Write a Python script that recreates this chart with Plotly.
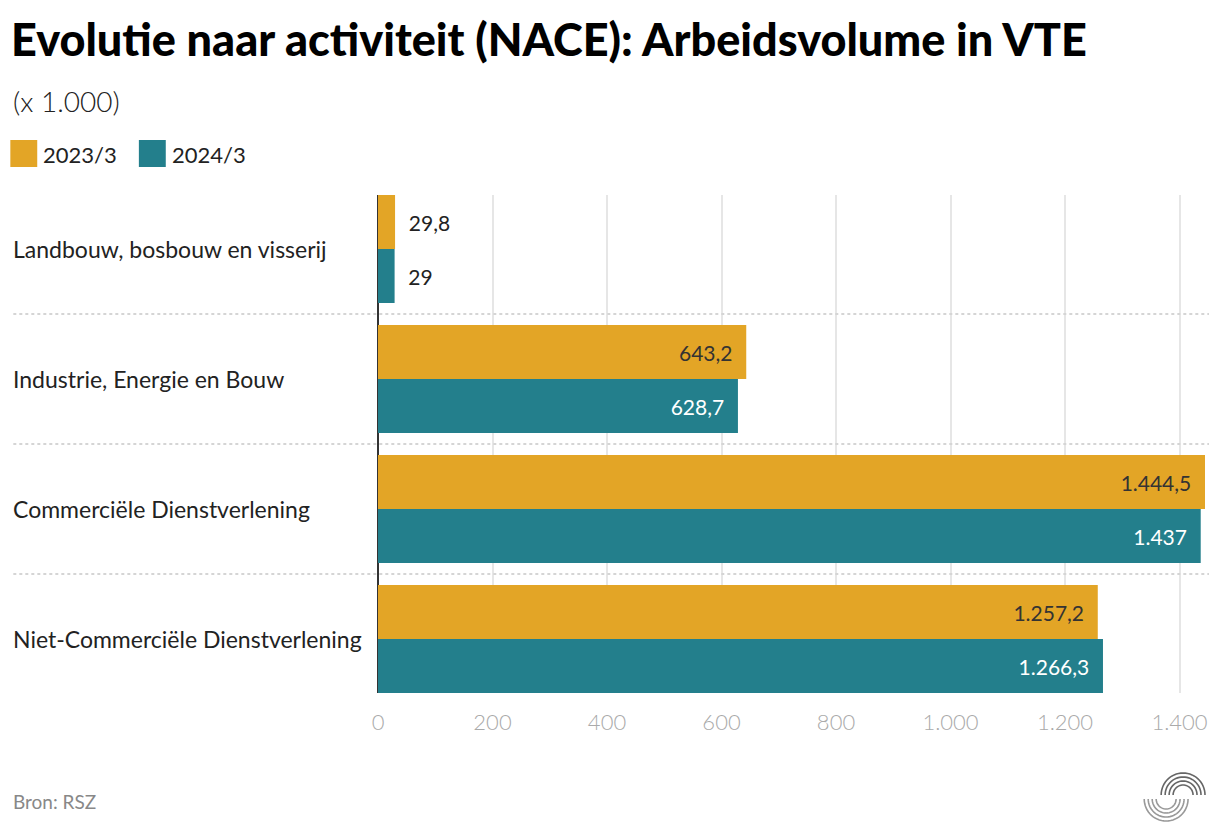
import math
import plotly.graph_objects as go

categories = ["Landbouw, bosbouw en visserij", "Industrie, Energie en Bouw",
              "Commerciële Dienstverlening", "Niet-Commerciële Dienstverlening"]
series_names = ["2023/3", "2024/3"]
values_2023 = [29.8, 643.2, 1444.5, 1257.2]
values_2024 = [29.0, 628.7, 1437.0, 1266.3]
x_ticks = [0, 200, 400, 600, 800, 1000, 1200, 1400]
colors = ["#E3A526", "#237F8C"]
inside_text_colors = ["#333333", "#FFFFFF"]

OFF = 8  # page body margin
W, H = 1220 - OFF, 840 - OFF
L, R, T, B = 378, 1208, 195, 693  # in page pixels
FONT = "Lato"
NB = "\u00a0"


def fmt(v):
    s = f"{v:,.1f}"
    if s.endswith(".0"):
        s = s[:-2]
    return s.replace(",", "X").replace(".", ",").replace("X", ".")


def px(x):
    return (x - L) / (R - L)


def py(y):
    return (B - y) / (B - T)


idx = list(range(len(categories)))
fig = go.Figure()
for name, vals, col, tcol in zip(series_names, [values_2023, values_2024], colors, inside_text_colors):
    pos = ["outside" if v < 100 else "inside" for v in vals]
    txt = [(NB * 2 + fmt(v)) if p == "outside" else (fmt(v) + NB * 2) for v, p in zip(vals, pos)]
    fig.add_trace(go.Bar(
        y=idx, x=vals, name=name, orientation="h",
        marker=dict(color=col, line=dict(width=0)),
        text=txt, textposition=pos,
        insidetextanchor="end",
        insidetextfont=dict(family=FONT, size=21, color=tcol),
        outsidetextfont=dict(family=FONT, size=21, color="#222222"),
        constraintext="none", cliponaxis=False,
        hoverinfo="skip",
    ))

pad = 11 / 130
shapes = []
for i in range(len(categories) - 1):
    shapes.append(dict(type="line", xref="paper", yref="y",
                       x0=px(12), x1=px(1212), y0=i + 0.5, y1=i + 0.5,
                       line=dict(color="#d5d5d5", width=2, dash="dot")))

legend_x = [9, 138]
annotations = []
for name, col, lx in zip(series_names, colors, legend_x):
    shapes.append(dict(type="rect", xref="paper", yref="paper",
                       x0=px(lx), x1=px(lx + 27), y0=py(140), y1=py(167),
                       fillcolor=col, line=dict(width=0)))
    annotations.append(dict(text=name, xref="paper", yref="paper", x=px(lx + 31), y=py(154),
                            xanchor="left", yanchor="middle", showarrow=False,
                            font=dict(family=FONT, size=22, color="#222222")))

for i, c in enumerate(categories):
    annotations.append(dict(text=c, xref="paper", yref="y", x=px(10), y=i,
                            xanchor="left", yanchor="middle", showarrow=False,
                            font=dict(family=FONT, size=23, color="#222222")))

annotations.append(dict(text="Evolutie naar activiteit (NACE): Arbeidsvolume in VTE",
                        xref="paper", yref="paper", x=px(8), y=py(39),
                        xanchor="left", yanchor="middle", showarrow=False,
                        font=dict(family=FONT, size=45, color="#000000", weight=900)))
annotations.append(dict(text="(x 1.000)", xref="paper", yref="paper", x=px(10), y=py(101),
                        xanchor="left", yanchor="middle", showarrow=False,
                        font=dict(family=FONT, size=28, color="#222222", weight=300)))
annotations.append(dict(text="Bron: RSZ", xref="paper", yref="paper", x=px(10), y=py(801),
                        xanchor="left", yanchor="middle", showarrow=False,
                        font=dict(family=FONT, size=19, color="#888888")))


def arc_path(cx, cy, r, a0, a1, n=30):
    pts = []
    for k in range(n + 1):
        a = a0 + (a1 - a0) * k / n
        x = cx + r * math.cos(a)
        y = cy - r * math.sin(a)
        pts.append(f"{px(x):.5f},{py(y):.5f}")
    return "M" + " L".join(pts)


for r in [10, 14, 18, 22]:
    shapes.append(dict(type="path", xref="paper", yref="paper",
                       path=arc_path(1186, 795, r, 0, math.pi),
                       line=dict(color="#666666", width=1.6)))
    shapes.append(dict(type="path", xref="paper", yref="paper",
                       path=arc_path(1169, 799, r, math.pi, 2 * math.pi),
                       line=dict(color="#999999", width=1.6)))

fig.update_layout(
    width=W, height=H,
    margin=dict(l=L - OFF, r=W - (R - OFF), t=T - OFF, b=H - (B - OFF), pad=0),
    paper_bgcolor="white", plot_bgcolor="white",
    barmode="group", bargap=22 / 130, bargroupgap=0,
    separators=",.",
    showlegend=False,
    font=dict(family=FONT, color="#222222"),
    shapes=shapes, annotations=annotations,
    xaxis=dict(range=[0, 1444.5], tickvals=x_ticks, tickformat=",d",
               showgrid=True, gridcolor="#e6e6e6", gridwidth=2,
               zeroline=True, zerolinecolor="#333333", zerolinewidth=2,
               showline=False, ticks="", ticklabelstandoff=14,
               tickfont=dict(family=FONT, size=22, color="#aaaaaa", weight=300),
               fixedrange=True),
    yaxis=dict(range=[len(categories) - 0.5 - pad, -0.5 + pad],
               showticklabels=False, showgrid=False, zeroline=False,
               ticks="", fixedrange=True),
)

fig.write_html("out.html")
